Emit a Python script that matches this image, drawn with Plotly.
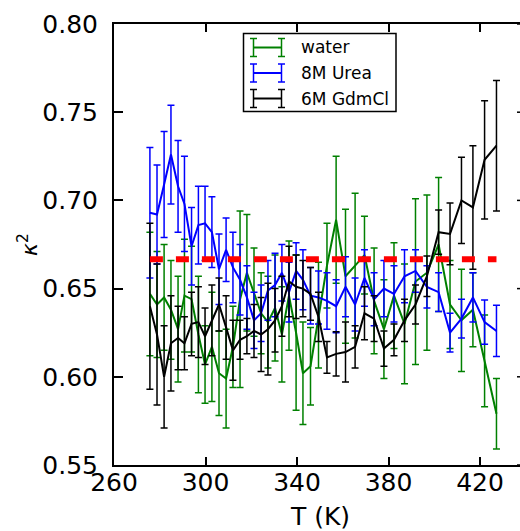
import plotly.graph_objects as go

# ---- data ----
temps = [275.7, 278.8, 281.9, 284.9, 288.0, 290.8, 293.9, 296.9, 299.8, 302.8,
         305.9, 309.0, 312.0, 315.1, 318.1, 321.2, 324.3, 327.3, 330.4, 333.4,
         336.5, 339.6, 342.6, 345.9, 349.4, 353.1, 357.1, 361.2, 365.4, 369.5,
         373.7, 378.0, 382.4, 387.0, 391.8, 396.8, 401.9, 406.9, 411.9, 416.9,
         422.0, 427.2]

water = [0.647, 0.641, 0.645, 0.638, 0.627, 0.646, 0.644, 0.624, 0.607, 0.617,
         0.602, 0.599, 0.617, 0.644, 0.659, 0.648, 0.636, 0.631, 0.639, 0.624,
         0.646, 0.625, 0.602, 0.606, 0.635, 0.663, 0.689, 0.657, 0.663, 0.669,
         0.643, 0.627, 0.646, 0.630, 0.654, 0.659, 0.675, 0.641, 0.632, 0.638,
         0.609, 0.579]
water_err = [0.035, 0.030, 0.030, 0.028, 0.030, 0.032, 0.030, 0.033, 0.022, 0.031,
             0.024, 0.028, 0.023, 0.050, 0.033, 0.025, 0.023, 0.026, 0.030, 0.027,
             0.031, 0.044, 0.029, 0.022, 0.030, 0.024, 0.036, 0.038, 0.041, 0.022,
             0.030, 0.028, 0.030, 0.034, 0.047, 0.044, 0.038, 0.025, 0.029, 0.021,
             0.026, 0.020]

urea = [0.693, 0.692, 0.709, 0.726, 0.708, 0.698, 0.674, 0.686, 0.687, 0.682,
        0.661, 0.672, 0.662, 0.655, 0.645, 0.632, 0.636, 0.649, 0.652, 0.659,
        0.648, 0.660, 0.655, 0.646, 0.645, 0.643, 0.640, 0.651, 0.641, 0.656,
        0.644, 0.650, 0.647, 0.657, 0.660, 0.651, 0.648, 0.625, 0.633, 0.645,
        0.631, 0.626]
urea_err = [0.037, 0.028, 0.030, 0.028, 0.026, 0.027, 0.022, 0.022, 0.021, 0.020,
            0.020, 0.018, 0.020, 0.020, 0.018, 0.016, 0.016, 0.017, 0.018, 0.016,
            0.017, 0.016, 0.017, 0.016, 0.015, 0.016, 0.015, 0.017, 0.015, 0.016,
            0.015, 0.016, 0.016, 0.015, 0.012, 0.012, 0.011, 0.011, 0.011, 0.014,
            0.0125, 0.0145]

gdmcl = [0.640, 0.624, 0.600, 0.619, 0.622, 0.619, 0.630, 0.631, 0.623, 0.632,
         0.641, 0.628, 0.615, 0.621, 0.623, 0.626, 0.624, 0.627, 0.632, 0.640,
         0.654, 0.651, 0.650, 0.647, 0.634, 0.611, 0.613, 0.614, 0.617, 0.636,
         0.633, 0.616, 0.621, 0.632, 0.641, 0.657, 0.682, 0.681, 0.700, 0.696,
         0.723, 0.731]
gdmcl_err = [0.047, 0.040, 0.029, 0.027, 0.018, 0.015, 0.018, 0.020, 0.016, 0.020,
             0.015, 0.018, 0.017, 0.011, 0.010, 0.015, 0.021, 0.026, 0.018, 0.017,
             0.020, 0.018, 0.016, 0.015, 0.014, 0.009, 0.0125, 0.017, 0.012, 0.015,
             0.013, 0.010, 0.009, 0.012, 0.011, 0.0115, 0.0125, 0.0175, 0.0245, 0.035,
             0.0335, 0.037]

ref_value = 2.0 / 3.0

series_names = ["water", "8M Urea", "6M GdmCl"]
series_colors = ["#008000", "#0000ff", "#000000"]
x_ticks = [260, 300, 340, 380, 420]
y_ticks = [0.55, 0.60, 0.65, 0.70, 0.75, 0.80]

FONT = "DejaVu Sans"
W, H = 520, 531
ML, MR, MT, MB = 114, 0, 24, 66
PW, PH = W - ML - MR, H - MT - MB


def px(x):
    return (x - ML) / PW


def py(y):
    return (H - MB - y) / PH


fig = go.Figure()
for name, vals, errs, col in zip(series_names, [water, urea, gdmcl],
                                 [water_err, urea_err, gdmcl_err], series_colors):
    fig.add_trace(go.Scatter(
        x=temps, y=vals, mode="lines", name=name, showlegend=False,
        line=dict(color=col, width=2),
        error_y=dict(type="data", array=errs, visible=True, color=col,
                     thickness=1.5, width=3.5),
    ))

fig.add_trace(go.Scatter(
    x=[temps[0], temps[-1]], y=[ref_value, ref_value], mode="lines",
    showlegend=False, line=dict(color="#ff0000", width=6, dash="13px,13px"),
))

shapes = []
annotations = []

# right-hand mirrored y ticks (spine itself lies just outside the window)
for v in y_ticks:
    shapes.append(dict(type="line", xref="paper", yref="y", x0=px(517), x1=1.0,
                       y0=v, y1=v, line=dict(color="black", width=1.5)))

# legend box
shapes.append(dict(type="rect", xref="paper", yref="paper",
                   x0=px(243.5), x1=px(396), y0=py(111.5), y1=py(33.5),
                   line=dict(color="black", width=1.5), fillcolor="white"))
centers = [47.5, 73.0, 98.5]
for name, col, yc in zip(series_names, series_colors, centers):
    xl, xr = 253.5, 281.5
    shapes.append(dict(type="line", xref="paper", yref="paper",
                       x0=px(xl), x1=px(xr), y0=py(yc), y1=py(yc),
                       line=dict(color=col, width=2)))
    for xv in (xl, xr):
        shapes.append(dict(type="line", xref="paper", yref="paper",
                           x0=px(xv), x1=px(xv), y0=py(yc - 9), y1=py(yc + 9),
                           line=dict(color=col, width=1.5)))
        for yy in (yc - 9, yc + 9):
            shapes.append(dict(type="line", xref="paper", yref="paper",
                               x0=px(xv - 3.5), x1=px(xv + 3.5), y0=py(yy), y1=py(yy),
                               line=dict(color=col, width=1.5)))
    annotations.append(dict(text=name, xref="paper", yref="paper",
                            x=px(299), y=py(yc), xanchor="left", yanchor="middle",
                            showarrow=False, font=dict(family=FONT, size=17, color="black")))

# axis titles
annotations.append(dict(text="T (K)", xref="paper", yref="paper",
                        x=px(320), y=py(516), xanchor="center", yanchor="middle",
                        showarrow=False, font=dict(family=FONT, size=25, color="black")))
annotations.append(dict(text="<i>κ</i><sup>2</sup>", xref="paper", yref="paper",
                        x=px(28), y=py(245), xanchor="center", yanchor="middle",
                        textangle=-90, showarrow=False,
                        font=dict(family=FONT, size=22, color="black")))

fig.update_layout(
    width=W, height=H,
    margin=dict(l=ML, r=MR, t=MT, b=MB, pad=0),
    paper_bgcolor="white", plot_bgcolor="white",
    shapes=shapes, annotations=annotations,
    xaxis=dict(range=[260, 260 + PW / 2.2875], tickvals=x_ticks,
               ticks="inside", ticklen=8, tickwidth=1.5, tickcolor="black",
               showline=True, linewidth=2, linecolor="black", mirror="ticks",
               showgrid=False, zeroline=False, ticklabelstandoff=-6,
               tickfont=dict(family=FONT, size=25, color="black")),
    yaxis=dict(range=[0.55, 0.80], tickvals=y_ticks, tickformat=".2f",
               ticks="inside", ticklen=9, tickwidth=1.5, tickcolor="black",
               showline=True, linewidth=2, linecolor="black",
               showgrid=False, zeroline=False, ticklabelstandoff=9,
               tickfont=dict(family=FONT, size=25, color="black")),
)

fig.write_html("out.html")
